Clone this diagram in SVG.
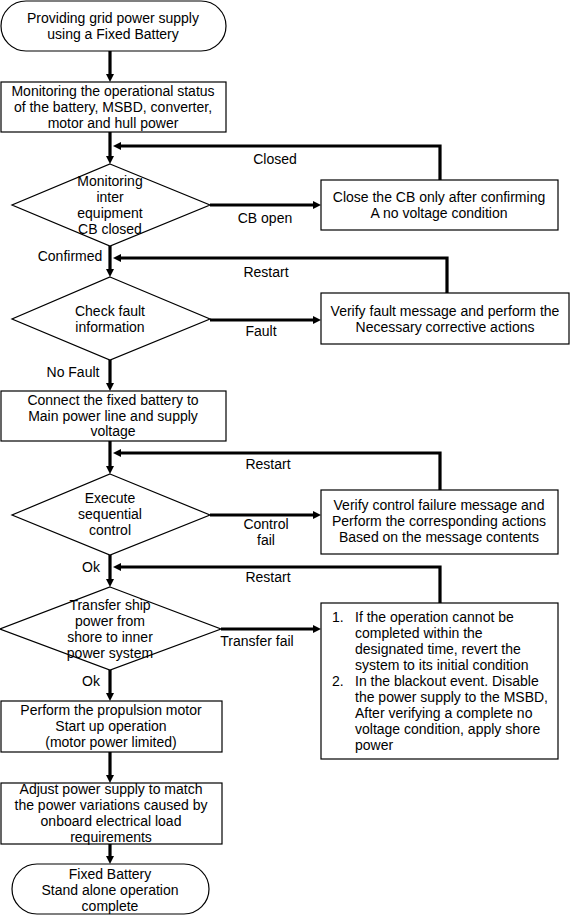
<svg xmlns="http://www.w3.org/2000/svg" width="570" height="916" viewBox="0 0 570 916">
<style>
.s{fill:#fff;stroke:#000;stroke-width:1.2}
text{font-family:"Liberation Sans",Arial,sans-serif;font-size:14px;fill:#000;text-anchor:middle}
.l{text-anchor:start}
.c{fill:none;stroke:#000;stroke-width:3.2}
</style>
<defs>
<marker id="a" viewBox="0 0 8 8" markerWidth="8" markerHeight="8" markerUnits="userSpaceOnUse" refX="2" refY="4" orient="auto">
<path d="M0,0 L8,4 L0,8 z" fill="#000"/>
</marker>
</defs>
<rect width="570" height="916" fill="#fff"/>
<g id="connectors">
<path class="c" marker-end="url(#a)" d="M110,51 V76"/>
<path class="c" marker-end="url(#a)" d="M110,132 V158"/>
<path class="c" marker-end="url(#a)" d="M110,246 V271"/>
<path class="c" marker-end="url(#a)" d="M110,360 V385"/>
<path class="c" marker-end="url(#a)" d="M110,441 V468"/>
<path class="c" marker-end="url(#a)" d="M110,555 V581"/>
<path class="c" marker-end="url(#a)" d="M110,670 V695"/>
<path class="c" marker-end="url(#a)" d="M110,752 V777"/>
<path class="c" marker-end="url(#a)" d="M110,844 V858"/>
<path class="c" marker-end="url(#a)" d="M210,205 H315"/>
<path class="c" marker-end="url(#a)" d="M210,320 H315"/>
<path class="c" marker-end="url(#a)" d="M210,515 H315"/>
<path class="c" marker-end="url(#a)" d="M221,629 H315"/>
<path class="c" marker-end="url(#a)" d="M440,180 V146 H119"/>
<path class="c" marker-end="url(#a)" d="M447,293 V258 H119"/>
<path class="c" marker-end="url(#a)" d="M440,490 V453 H119"/>
<path class="c" marker-end="url(#a)" d="M440,603 V567 H119"/>
<text x="275" y="164">Closed</text>
<text x="265" y="223">CB open</text>
<text x="70" y="261">Confirmed</text>
<text x="266" y="277">Restart</text>
<text x="261" y="336">Fault</text>
<text x="73" y="377">No Fault</text>
<text x="268" y="469">Restart</text>
<text x="266" y="529">Control</text>
<text x="266" y="545">fail</text>
<text x="91" y="572">Ok</text>
<text x="268" y="582">Restart</text>
<text x="257" y="646">Transfer fail</text>
<text x="91" y="686">Ok</text>
</g>
<g id="start">
<rect class="s" x="1" y="1" width="225" height="50" rx="25" ry="25"/>
<text x="113" y="23">Providing grid power supply</text>
<text x="113" y="39">using a Fixed Battery</text>
</g>
<g id="monitor">
<rect class="s" x="1" y="82" width="225" height="50"/>
<text x="113" y="96">Monitoring the operational status</text>
<text x="113" y="112">of the battery, MSBD, converter,</text>
<text x="113" y="128">motor and hull power</text>
</g>
<g id="cb-decision">
<path class="s" d="M110,164 L210,205 L110,246 L12,205 z"/>
<text x="110" y="186">Monitoring</text>
<text x="110" y="202">inter</text>
<text x="110" y="218">equipment</text>
<text x="110" y="234">CB closed</text>
</g>
<g id="cb-action">
<rect class="s" x="321" y="180" width="237" height="50"/>
<text x="439" y="202">Close the CB only after confirming</text>
<text x="439" y="218">A no voltage condition</text>
</g>
<g id="fault-decision">
<path class="s" d="M110,277 L210,319 L110,360 L12,319 z"/>
<text x="110" y="316">Check fault</text>
<text x="110" y="332">information</text>
</g>
<g id="fault-action">
<rect class="s" x="321" y="293" width="248" height="51"/>
<text x="445" y="316">Verify fault message and perform the</text>
<text x="445" y="332">Necessary corrective actions</text>
</g>
<g id="connect">
<rect class="s" x="1" y="391" width="225" height="50"/>
<text x="113" y="405">Connect the fixed battery to</text>
<text x="113" y="421">Main power line and supply</text>
<text x="113" y="436">voltage</text>
</g>
<g id="seq-decision">
<path class="s" d="M110,474 L210,515 L110,555 L12,515 z"/>
<text x="110" y="503">Execute</text>
<text x="110" y="519">sequential</text>
<text x="110" y="535">control</text>
</g>
<g id="seq-action">
<rect class="s" x="321" y="490" width="237" height="64"/>
<text x="439" y="510">Verify control failure message and</text>
<text x="439" y="526">Perform the corresponding actions</text>
<text x="439" y="542">Based on the message contents</text>
</g>
<g id="transfer-decision">
<path class="s" d="M110,587 L221,629 L110,670 L0,629 z"/>
<text x="110" y="610">Transfer ship</text>
<text x="110" y="626">power from</text>
<text x="110" y="642">shore to inner</text>
<text x="110" y="658">power system</text>
</g>
<g id="transfer-action">
<rect class="s" x="321" y="603" width="237" height="156"/>
<text class="l" x="332" y="622">1.</text>
<text class="l" x="355" y="622">If the operation cannot be</text>
<text class="l" x="355" y="638">completed within the</text>
<text class="l" x="355" y="654">designated time, revert the</text>
<text class="l" x="355" y="670">system to its initial condition</text>
<text class="l" x="332" y="686">2.</text>
<text class="l" x="355" y="686">In the blackout event. Disable</text>
<text class="l" x="355" y="702">the power supply to the MSBD,</text>
<text class="l" x="355" y="718">After verifying a complete no</text>
<text class="l" x="355" y="734">voltage condition, apply shore</text>
<text class="l" x="355" y="750">power</text>
</g>
<g id="propulsion">
<rect class="s" x="1" y="701" width="221" height="51"/>
<text x="111" y="715">Perform the propulsion motor</text>
<text x="111" y="731">Start up operation</text>
<text x="111" y="747">(motor power limited)</text>
</g>
<g id="adjust">
<rect class="s" x="1" y="783" width="221" height="61"/>
<text x="111" y="794">Adjust power supply to match</text>
<text x="111" y="810">the power variations caused by</text>
<text x="111" y="826">onboard electrical load</text>
<text x="111" y="842">requirements</text>
</g>
<g id="end">
<rect class="s" x="12" y="864" width="197" height="50" rx="25" ry="25"/>
<text x="110" y="879">Fixed Battery</text>
<text x="110" y="895">Stand alone operation</text>
<text x="110" y="911">complete</text>
</g>
</svg>
